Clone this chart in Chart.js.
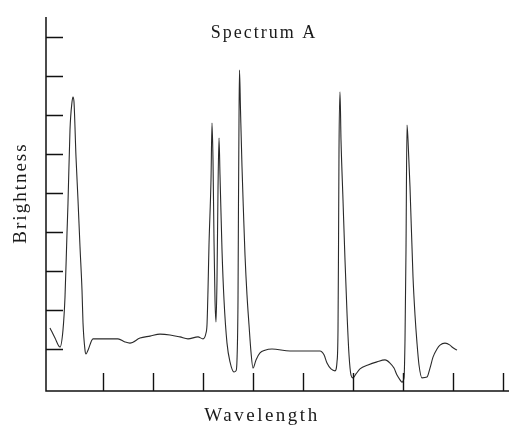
<!DOCTYPE html>
<html>
<head>
<meta charset="utf-8">
<script src="https://cdn.jsdelivr.net/npm/chart.js@4/dist/chart.umd.min.js"></script>
<style>
  html, body { margin: 0; padding: 0; background: #fff; }
  #wrap { width: 509px; height: 426px; }
</style>
</head>
<body>
<div id="wrap"><canvas id="spec" width="509" height="426"></canvas></div>
<script>
// wavelength (tick units) and brightness (tick units)
const wavelength = [
  -0.06, 0.04, 0.14, 0.20, 0.24, 0.28, 0.30, 0.34, 0.38, 0.40,
  0.42, 0.46, 0.50, 0.54, 0.58, 0.60, 0.64, 0.66, 0.70, 0.80,
  1.04, 1.30, 1.44, 1.54, 1.74, 1.94, 2.14, 2.34, 2.54, 2.70,
  2.90, 3.00, 3.06, 3.08, 3.10, 3.12, 3.16, 3.18, 3.20, 3.22,
  3.24, 3.26, 3.28, 3.30, 3.32, 3.34, 3.38, 3.42, 3.48, 3.54,
  3.62, 3.66, 3.68, 3.70, 3.71, 3.72, 3.73, 3.75, 3.78, 3.81,
  3.84, 3.88, 3.92, 3.96, 4.00, 4.06, 4.14, 4.24, 4.38, 4.74,
  5.04, 5.34, 5.42, 5.48, 5.56, 5.64, 5.68, 5.70, 5.71, 5.72,
  5.74, 5.76, 5.80, 5.84, 5.88, 5.92, 5.96, 6.00, 6.06, 6.14,
  6.30, 6.48, 6.64, 6.74, 6.82, 6.88, 6.94, 6.98, 7.02, 7.04,
  7.06, 7.08, 7.10, 7.14, 7.20, 7.24, 7.28, 7.32, 7.38, 7.48,
  7.54, 7.60, 7.68, 7.74, 7.84, 7.94, 7.98, 8.08
];
const brightness = [
  1.54, 1.28, 1.05, 1.49, 2.33, 3.97, 4.74, 6.62, 7.33, 7.46,
  7.33, 5.92, 4.82, 3.62, 2.51, 1.67, 0.97, 0.87, 0.97, 1.26,
  1.26, 1.26, 1.18, 1.15, 1.28, 1.33, 1.38, 1.36, 1.31, 1.26,
  1.31, 1.26, 1.41, 1.62, 2.51, 3.67, 5.33, 6.79, 5.85, 3.79,
  2.26, 1.69, 2.77, 5.08, 6.41, 5.46, 3.54, 2.26, 1.15, 0.67,
  0.41, 0.44, 0.72, 2.26, 4.82, 6.87, 8.15, 7.13, 5.67, 4.49,
  3.41, 2.38, 1.62, 0.92, 0.51, 0.72, 0.90, 0.97, 1.00, 0.95,
  0.95, 0.95, 0.85, 0.64, 0.49, 0.44, 0.67, 1.49, 3.54, 6.10,
  7.59, 6.36, 4.82, 3.28, 1.92, 0.85, 0.33, 0.26, 0.36, 0.49,
  0.59, 0.67, 0.72, 0.64, 0.51, 0.33, 0.21, 0.15, 0.26, 1.23,
  3.54, 6.74, 6.36, 5.15, 2.85, 1.87, 1.15, 0.59, 0.26, 0.28,
  0.51, 0.79, 1.00, 1.10, 1.15, 1.10, 1.05, 0.97
];
const xTicks = [1, 2, 3, 4, 5, 6, 7, 8, 9];
const yTicks = [1, 2, 3, 4, 5, 6, 7, 8, 9];

const points = wavelength.map((w, i) => ({ x: w, y: brightness[i] }));

// axes, inward tick marks and the serif labels
const frame = {
  id: 'frame',
  afterDatasetsDraw(chart) {
    const { ctx, chartArea: a, scales: { x, y } } = chart;
    ctx.save();
    ctx.strokeStyle = '#111';
    ctx.lineWidth = 1.5;
    ctx.beginPath();
    ctx.moveTo(a.left, a.top);
    ctx.lineTo(a.left, a.bottom);
    ctx.lineTo(a.right, a.bottom);
    ctx.stroke();

    ctx.lineWidth = 1.4;
    ctx.beginPath();
    yTicks.forEach(v => {
      const py = Math.round(y.getPixelForValue(v)) + 0.5;
      ctx.moveTo(a.left, py);
      ctx.lineTo(a.left + 17, py);
    });
    xTicks.forEach(v => {
      const px = Math.round(x.getPixelForValue(v)) + 0.5;
      ctx.moveTo(px, a.bottom);
      ctx.lineTo(px, a.bottom - 18);
    });
    ctx.stroke();

    ctx.fillStyle = '#1a1a1a';
    ctx.font = '18px "Liberation Serif", "DejaVu Serif", serif';
    ctx.textAlign = 'center';
    ctx.textBaseline = 'alphabetic';
    ctx.letterSpacing = '2px';
    ctx.fillText('Spectrum A', 264, 38);

    ctx.font = '19px "Liberation Serif", "DejaVu Serif", serif';
    ctx.letterSpacing = '2.5px';
    ctx.fillText('Wavelength', 262, 421);

    ctx.letterSpacing = '2px';
    ctx.translate(26, 193);
    ctx.rotate(-Math.PI / 2);
    ctx.fillText('Brightness', 0, 0);
    ctx.restore();
  }
};

new Chart(document.getElementById('spec'), {
  type: 'line',
  data: {
    datasets: [{
      label: 'Spectrum A',
      data: points,
      borderColor: '#2a2a2a',
      borderWidth: 1.1,
      pointRadius: 0,
      fill: false,
      cubicInterpolationMode: 'monotone'
    }]
  },
  options: {
    responsive: false,
    animation: false,
    layout: { padding: { left: 46, top: 17, right: 0, bottom: 35 } },
    scales: {
      x: { type: 'linear', min: -0.14, max: 9.12, display: false },
      y: { min: -0.077, max: 9.51, display: false }
    },
    plugins: { legend: { display: false }, tooltip: { enabled: false } }
  },
  plugins: [frame]
});
</script>
</body>
</html>
